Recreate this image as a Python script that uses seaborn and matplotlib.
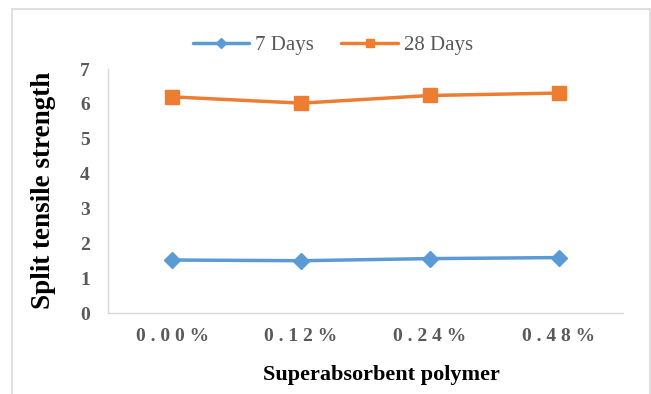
import matplotlib
matplotlib.use("Agg")
import matplotlib.pyplot as plt
from matplotlib.lines import Line2D
from matplotlib.patches import Rectangle
import seaborn as sns
import pandas as pd

# Split tensile strength vs superabsorbent polymer dosage
categories = ["0.00%", "0.12%", "0.24%", "0.48%"]
days_7 = [1.52, 1.50, 1.56, 1.59]
days_28 = [6.20, 6.02, 6.24, 6.31]
series_names = ["7 Days", "28 Days"]
y_ticks = [0, 1, 2, 3, 4, 5, 6, 7]

BLUE = "#5B9BD5"
ORANGE = "#ED7D31"
GREY_TXT = "#595959"
GREY_LINE = "#D9D9D9"

sns.set_theme(style="white")
plt.rcParams["font.family"] = ["Liberation Serif", "DejaVu Serif"]

df = pd.DataFrame({
    "pos": list(range(len(categories))) * 2,
    "value": days_7 + days_28,
    "series": [series_names[0]] * len(categories) + [series_names[1]] * len(categories),
})

fig = plt.figure(figsize=(6.51, 3.94), dpi=100)
ax = fig.add_axes([108 / 651, 1 - 313 / 394, (623 - 108) / 651, (313 - 69) / 394])

sns.lineplot(
    data=df[df.series == series_names[0]], x="pos", y="value", ax=ax,
    color=BLUE, lw=2.5, marker="D", markersize=8.5, markeredgewidth=1,
    markeredgecolor=BLUE, legend=False,
)
sns.lineplot(
    data=df[df.series == series_names[1]], x="pos", y="value", ax=ax,
    color=ORANGE, lw=2.5, marker="s", markersize=10.5, markeredgewidth=1,
    markeredgecolor=ORANGE, legend=False,
)

ax.set_xlim(-0.5, len(categories) - 0.5)
ax.set_ylim(0, 7)
ax.set_yticks(y_ticks)
ax.set_yticklabels([str(t) for t in y_ticks], fontsize=14, fontweight="bold", color=GREY_TXT)
ax.set_xticks(range(len(categories)))
ax.set_xticklabels([" ".join(c) for c in categories], fontsize=14,
                   fontweight="bold", color=GREY_TXT)
ax.tick_params(axis="y", length=0, pad=13)
ax.tick_params(axis="x", length=0, pad=11)

for side in ["top", "right"]:
    ax.spines[side].set_visible(False)
for side in ["left", "bottom"]:
    ax.spines[side].set_color(GREY_LINE)
    ax.spines[side].set_linewidth(1)

ax.set_ylabel("Split tensile strength", fontsize=19.5, fontweight="bold", color="black", va="center")
ax.yaxis.set_label_coords(44 / 651, 1 - 190 / 394, transform=fig.transFigure)
ax.set_xlabel("Superabsorbent polymer", fontsize=16, fontweight="bold", color="black", va="center")
ax.xaxis.set_label_coords(381 / 651, 1 - 375 / 394, transform=fig.transFigure)

handles = [
    Line2D([], [], color=BLUE, lw=2.5, marker="D", markersize=5),
    Line2D([], [], color=ORANGE, lw=2.5, marker="s", markersize=6),
]
leg = fig.legend(handles, series_names, loc="center", bbox_to_anchor=(333 / 651, 1 - 45 / 394),
                 ncol=2, frameon=False, fontsize=15, handlelength=2.7, handletextpad=0.3,
                 columnspacing=1.3)
for t in leg.get_texts():
    t.set_color(GREY_TXT)

fig.patches.append(Rectangle((12 / 651, -0.05), (650 - 12) / 651, 1.05 - 9 / 394,
                             transform=fig.transFigure, fill=False,
                             edgecolor=GREY_LINE, lw=1.2))

fig.savefig("out.png", dpi=100, facecolor="white")
